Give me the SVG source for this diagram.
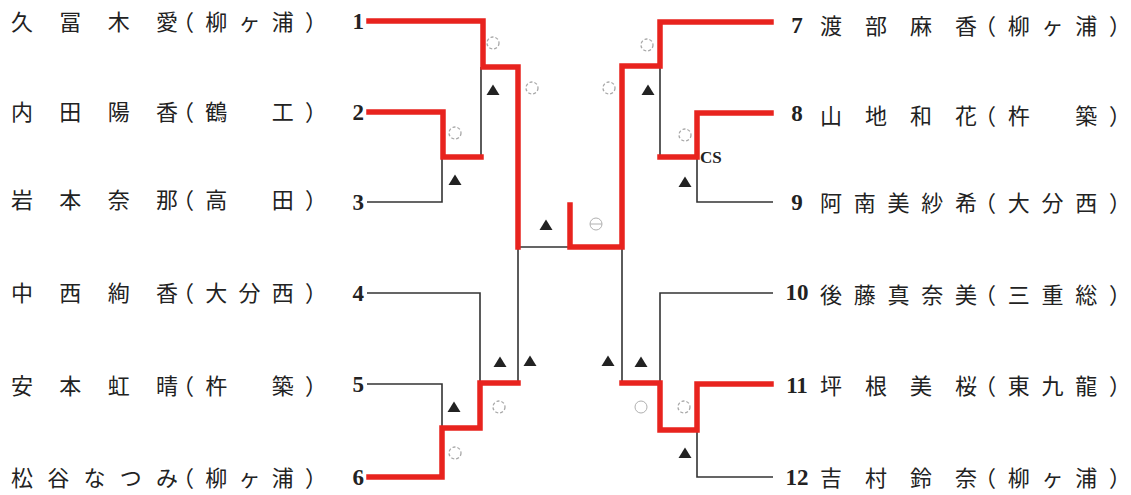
<svg xmlns="http://www.w3.org/2000/svg" xmlns:xlink="http://www.w3.org/1999/xlink" width="1131" height="495" viewBox="0 0 1131 495">
<style>
.nm{font-family:"Noto Sans CJK JP","Noto Sans CJK SC",sans-serif;font-size:22px;fill:#222}
.no{font-family:"Liberation Serif",serif;font-weight:bold;font-size:23px;fill:#222}
.cs{font-family:"Liberation Serif",serif;font-weight:bold;font-size:17px;fill:#222}
.bk{fill:none;stroke:#333;stroke-width:1.6}
.rd{fill:none;stroke:#e8231e;stroke-width:5.5;stroke-linejoin:miter;stroke-linecap:square}
.ci{fill:none;stroke:#a8a8a8;stroke-width:1.3;stroke-dasharray:3 2}
.cs2{fill:none;stroke:#b0b0b0;stroke-width:1}
.tr{fill:#222}
</style>
<defs>
<path id="tri" d="M0,-5.5 L6.5,5 L-6.5,5 Z"/>
<circle id="dc" r="6"/>
</defs>
<rect width="1131" height="495" fill="#fff"/>

<g id="connectors">
  <path class="bk" d="M481,67 V157"/>
  <path class="bk" d="M367,202 H442 V157"/>
  <path class="bk" d="M367,293 H480 V383"/>
  <path class="bk" d="M367,384 H442 V428"/>
  <path class="bk" d="M518,383 V247 H570"/>
  <path class="bk" d="M660,66 V157"/>
  <path class="bk" d="M773,202 H697 V157"/>
  <path class="bk" d="M622,247 V383"/>
  <path class="bk" d="M773,293 H660 V383"/>
  <path class="bk" d="M773,477 H697 V430"/>
  <path class="rd" d="M369,21 H483 V67 H518 V247"/>
  <path class="rd" d="M369,112 H443 V157 H481"/>
  <path class="rd" d="M369,477 H442 V428 H480 V383 H518"/>
  <path class="rd" d="M570,205 V247 H622 V66 H660 V22 H771"/>
  <path class="rd" d="M771,113 H697 V157 H660"/>
  <path class="rd" d="M771,384 H697 V430 H660 V383 H622"/>
</g>

<g id="marks">
  <use xlink:href="#dc" class="ci" x="493" y="43"/>
  <use xlink:href="#tri" class="tr" x="493" y="90"/>
  <use xlink:href="#dc" class="ci" x="532" y="88"/>
  <use xlink:href="#dc" class="ci" x="455" y="133"/>
  <use xlink:href="#tri" class="tr" x="455" y="180"/>
  <use xlink:href="#tri" class="tr" x="546" y="225"/>
  <use xlink:href="#tri" class="tr" x="500" y="362"/>
  <use xlink:href="#tri" class="tr" x="530" y="361"/>
  <use xlink:href="#tri" class="tr" x="454" y="407"/>
  <use xlink:href="#dc" class="ci" x="499" y="407"/>
  <use xlink:href="#dc" class="ci" x="455" y="453"/>
  <g id="draw-mark">
    <circle class="cs2" cx="596" cy="224" r="6"/>
    <path class="cs2" d="M590,224 H602"/>
  </g>
  <use xlink:href="#dc" class="ci" x="609" y="88"/>
  <use xlink:href="#dc" class="ci" x="647" y="45"/>
  <use xlink:href="#tri" class="tr" x="648" y="90"/>
  <use xlink:href="#dc" class="ci" x="685" y="135"/>
  <use xlink:href="#tri" class="tr" x="685" y="182"/>
  <text class="cs" x="700" y="163">CS</text>
  <use xlink:href="#tri" class="tr" x="608" y="361"/>
  <use xlink:href="#tri" class="tr" x="641" y="362"/>
  <circle class="cs2" cx="641" cy="407" r="6"/>
  <use xlink:href="#dc" class="ci" x="684" y="407"/>
  <use xlink:href="#tri" class="tr" x="685" y="453"/>
</g>

<g id="p1">
  <text class="nm" x="11" y="30" textLength="167" lengthAdjust="spacing">久冨木愛</text>
  <text class="nm" x="172" y="30" textLength="155" lengthAdjust="spacing">（柳ヶ浦）</text>
  <text class="no" x="364" y="29" text-anchor="end">1</text>
</g>
<g id="p2">
  <text class="nm" x="11" y="120" textLength="167" lengthAdjust="spacing">内田陽香</text>
  <text class="nm" x="172" y="120" textLength="155" lengthAdjust="spacing">（鶴　工）</text>
  <text class="no" x="364" y="120" text-anchor="end">2</text>
</g>
<g id="p3">
  <text class="nm" x="11" y="208" textLength="167" lengthAdjust="spacing">岩本奈那</text>
  <text class="nm" x="172" y="208" textLength="155" lengthAdjust="spacing">（高　田）</text>
  <text class="no" x="364" y="210" text-anchor="end">3</text>
</g>
<g id="p4">
  <text class="nm" x="11" y="301" textLength="167" lengthAdjust="spacing">中西絢香</text>
  <text class="nm" x="172" y="301" textLength="155" lengthAdjust="spacing">（大分西）</text>
  <text class="no" x="364" y="301" text-anchor="end">4</text>
</g>
<g id="p5">
  <text class="nm" x="11" y="394" textLength="167" lengthAdjust="spacing">安本虹晴</text>
  <text class="nm" x="172" y="394" textLength="155" lengthAdjust="spacing">（杵　築）</text>
  <text class="no" x="364" y="392" text-anchor="end">5</text>
</g>
<g id="p6">
  <text class="nm" x="11" y="486" textLength="167" lengthAdjust="spacing">松谷なつみ</text>
  <text class="nm" x="172" y="486" textLength="155" lengthAdjust="spacing">（柳ヶ浦）</text>
  <text class="no" x="364" y="485" text-anchor="end">6</text>
</g>
<g id="p7">
  <text class="no" x="797" y="33" text-anchor="middle">7</text>
  <text class="nm" x="820" y="34" textLength="157" lengthAdjust="spacing">渡部麻香</text>
  <text class="nm" x="974" y="34" textLength="157" lengthAdjust="spacing">（柳ヶ浦）</text>
</g>
<g id="p8">
  <text class="no" x="797" y="121" text-anchor="middle">8</text>
  <text class="nm" x="820" y="124" textLength="157" lengthAdjust="spacing">山地和花</text>
  <text class="nm" x="974" y="124" textLength="157" lengthAdjust="spacing">（杵　築）</text>
</g>
<g id="p9">
  <text class="no" x="797" y="210" text-anchor="middle">9</text>
  <text class="nm" x="820" y="211" textLength="157" lengthAdjust="spacing">阿南美紗希</text>
  <text class="nm" x="974" y="211" textLength="157" lengthAdjust="spacing">（大分西）</text>
</g>
<g id="p10">
  <text class="no" x="797" y="300" text-anchor="middle">10</text>
  <text class="nm" x="820" y="303" textLength="157" lengthAdjust="spacing">後藤真奈美</text>
  <text class="nm" x="974" y="303" textLength="157" lengthAdjust="spacing">（三重総）</text>
</g>
<g id="p11">
  <text class="no" x="797" y="393" text-anchor="middle">11</text>
  <text class="nm" x="820" y="394" textLength="157" lengthAdjust="spacing">坪根美桜</text>
  <text class="nm" x="974" y="394" textLength="157" lengthAdjust="spacing">（東九龍）</text>
</g>
<g id="p12">
  <text class="no" x="797" y="485" text-anchor="middle">12</text>
  <text class="nm" x="820" y="486" textLength="157" lengthAdjust="spacing">吉村鈴奈</text>
  <text class="nm" x="974" y="486" textLength="157" lengthAdjust="spacing">（柳ヶ浦）</text>
</g>
</svg>
